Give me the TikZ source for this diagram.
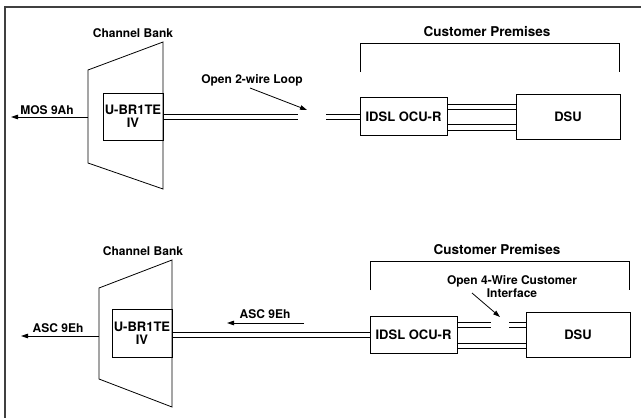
\documentclass[tikz,border=0pt]{standalone}
\usepackage{fontspec}
\setmainfont{TeX Gyre Heros}
\usetikzlibrary{arrows.meta,calc}
\begin{document}
\begin{tikzpicture}[x=1pt,y=-1pt,
  ln/.style={line width=0.8pt},
  wire/.style={line width=0.75pt},
  frame/.style={line width=1.1pt,draw=black!75},
  box/.style={draw,line width=0.8pt,inner sep=0pt,align=center,font=\fontsize{13}{13}\selectfont\bfseries},
  lbl/.style={inner sep=0pt,align=center,font=\fontsize{12}{11}\selectfont\bfseries},
  cp/.style={inner sep=0pt,font=\fontsize{13.5}{15}\selectfont\bfseries},
  arr/.style={line width=0.8pt,-{Triangle[length=7pt,width=4.5pt]}}
]
\useasboundingbox (0,0) rectangle (641,418);
% frame
\coordinate (fa) at (641,7);
\coordinate (fb) at (5,7);
\coordinate (fc) at (5,418);
\draw[frame] (fa) -- (fb) -- (fc);

% ---------- top diagram ----------
\coordinate (ta) at (88,70);
\coordinate (tb) at (163,42);
\coordinate (tc) at (163,189);
\coordinate (td) at (88,163);
\draw[ln] (ta) -- (tb) -- (tc) -- (td) -- cycle;
\node[lbl] (cb1) at (133,33) {Channel Bank};
\node[box,minimum width=60pt,minimum height=47pt] (ub1) at (133,116.5) {U-BR1TE\\IV};

\coordinate (mosS) at (88,117);
\coordinate (mosE) at (11,117);
\draw[arr] (mosS) -- (mosE);
\node[lbl] (mos) at (47,110) {MOS 9Ah};

\node[lbl] (o2) at (252,80) {Open 2-wire Loop};
\coordinate (o2a) at (250,88);
\coordinate (o2b) at (307,110);
\draw[arr] (o2a) -- (o2b);

\node[box,minimum width=87pt,minimum height=38pt] (idsl1) at (403.5,116.5) {IDSL OCU-R};
\node[box,minimum width=104pt,minimum height=45pt] (dsu1) at (568,116.5) {DSU};

% 2-wire loop, broken
\coordinate (g1) at (298,116.5);
\coordinate (g2) at (326,116.5);
\draw[wire] ($(ub1.east)+(0,-2.5)$) -- ($(g1)+(0,-2.5)$);
\draw[wire] ($(ub1.east)+(0,2.5)$) -- ($(g1)+(0,2.5)$);
\draw[wire] ($(g2)+(0,-2.5)$) -- ($(idsl1.west)+(0,-2.5)$);
\draw[wire] ($(g2)+(0,2.5)$) -- ($(idsl1.west)+(0,2.5)$);

% 4-wire between IDSL and DSU
\coordinate (ya1) at (0,104);
\coordinate (ya2) at (0,109);
\coordinate (yb1) at (0,124);
\coordinate (yb2) at (0,130);
\draw[wire] (idsl1.east |- ya1) -- (dsu1.west |- ya1);
\draw[wire] (idsl1.east |- ya2) -- (dsu1.west |- ya2);
\draw[wire] (idsl1.east |- yb1) -- (dsu1.west |- yb1);
\draw[wire] (idsl1.east |- yb2) -- (dsu1.west |- yb2);

\coordinate (br1) at (360,72);
\coordinate (br2) at (360,43);
\coordinate (br3) at (619,43);
\coordinate (br4) at (619,72);
\draw[ln] (br1) -- (br2) -- (br3) -- (br4);
\node[cp] (cp1) at (487,32) {Customer Premises};

% ---------- bottom diagram ----------
\coordinate (sa) at (99,288);
\coordinate (sb) at (172,260);
\coordinate (sc) at (172,407);
\coordinate (sd) at (99,379);
\draw[ln] (sa) -- (sb) -- (sc) -- (sd) -- cycle;
\node[lbl] (cb2) at (143,251) {Channel Bank};
\node[box,minimum width=60pt,minimum height=48pt] (ub2) at (142,333) {U-BR1TE\\IV};

\coordinate (ascS) at (99,336);
\coordinate (ascE) at (21,336);
\draw[arr] (ascS) -- (ascE);
\node[lbl] (asc1) at (58,328) {ASC 9Eh};

\coordinate (ascS2) at (304,323);
\coordinate (ascE2) at (227,323);
\draw[arr] (ascS2) -- (ascE2);
\node[lbl] (asc2) at (265,314) {ASC 9Eh};

\node[box,minimum width=87pt,minimum height=37pt] (idsl2) at (413.5,334.5) {IDSL OCU-R};
\node[box,minimum width=104pt,minimum height=45pt] (dsu2) at (578,334.5) {DSU};

% 2-wire loop, continuous
\coordinate (yc1) at (0,332);
\coordinate (yc2) at (0,337);
\draw[wire] (ub2.east |- yc1) -- (idsl2.west |- yc1);
\draw[wire] (ub2.east |- yc2) -- (idsl2.west |- yc2);

% 4-wire, upper pair broken
\coordinate (yd1) at (0,322);
\coordinate (yd2) at (0,327);
\coordinate (ye1) at (0,343);
\coordinate (ye2) at (0,348);
\coordinate (h1) at (491,0);
\coordinate (h2) at (509,0);
\draw[wire] (idsl2.east |- yd1) -- (h1 |- yd1);
\draw[wire] (idsl2.east |- yd2) -- (h1 |- yd2);
\draw[wire] (h2 |- yd1) -- (dsu2.west |- yd1);
\draw[wire] (h2 |- yd2) -- (dsu2.west |- yd2);
\draw[wire] (idsl2.east |- ye1) -- (dsu2.west |- ye1);
\draw[wire] (idsl2.east |- ye2) -- (dsu2.west |- ye2);

\coordinate (bq1) at (370,290);
\coordinate (bq2) at (370,261);
\coordinate (bq3) at (629,261);
\coordinate (bq4) at (629,290);
\draw[ln] (bq1) -- (bq2) -- (bq3) -- (bq4);
\node[cp] (cp2) at (497,250) {Customer Premises};

\node[lbl] (o4) at (512,286.5) {Open 4-Wire Customer\\Interface};
\coordinate (o4a) at (472,293);
\coordinate (o4b) at (500,317);
\draw[arr] (o4a) -- (o4b);
\end{tikzpicture}
\end{document}
